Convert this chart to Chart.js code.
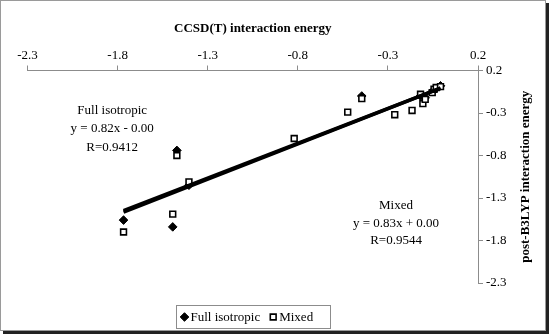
<!DOCTYPE html>
<html>
<head>
<meta charset="utf-8">
<script src="https://cdn.jsdelivr.net/npm/chart.js@4.4.1/dist/chart.umd.min.js"></script>
<style>
  html, body { margin: 0; padding: 0; background: #fff; }
  canvas { display: block; }
</style>
</head>
<body>
<canvas id="chart" width="549" height="334"></canvas>
<script>
// values
const isoX = [-1.767, -1.494, -1.471, -1.404, -0.445, -0.119, -0.093, -0.054, -0.032, -0.008];
const isoY = [-1.56, -1.64, -0.74, -1.15, -0.10, -0.10, -0.12, -0.05, -0.01, 0.02];

const mixX = [-1.767, -1.494, -1.471, -1.404, -0.820, -0.523, -0.445, -0.262, -0.166, -0.119, -0.106, -0.093, -0.054, -0.044, -0.032, -0.008];
const mixY = [-1.70, -1.49, -0.80, -1.11, -0.60, -0.29, -0.13, -0.32, -0.27, -0.08, -0.19, -0.14, -0.06, -0.02, 0.00, 0.01];

// trendline ends
const isoFitX = [-1.767, -0.008];
const isoFitY = [-1.449, -0.007];
const mixFitX = [-1.767, -0.008];
const mixFitY = [-1.467, -0.007];

const xTicks = [-2.3, -1.8, -1.3, -0.8, -0.3, 0.2];
const yTicks = [0.2, -0.3, -0.8, -1.3, -1.8, -2.3];

const isoLabel = "Full isotropic";
const mixLabel = "Mixed";
const isoNote = ["Full isotropic", "y = 0.82x - 0.00", "R=0.9412"];
const mixNote = ["Mixed", "y = 0.83x + 0.00", "R=0.9544"];

const serif = "'Liberation Serif', 'Times New Roman', serif";
const axisGray = "#8c8c8c";

function pts(xs, ys) {
  return xs.map((x, i) => ({ x: x, y: ys[i] }));
}

const extras = {
  id: "extras",
  beforeDraw(chart) {
    const ctx = chart.ctx;
    ctx.save();
    ctx.fillStyle = "#fff";
    ctx.fillRect(0, 0, chart.width, chart.height);
    ctx.restore();
  },
  afterDraw(chart) {
    const ctx = chart.ctx;
    const xs = chart.scales.x, ys = chart.scales.y;
    ctx.save();

    // notes
    ctx.fillStyle = "#000";
    ctx.font = "13px " + serif;
    ctx.textAlign = "center";
    ctx.textBaseline = "middle";
    isoNote.forEach((t, i) => {
      ctx.fillText(t, xs.getPixelForValue(-1.83), ys.getPixelForValue(-0.27) + i * 18.5);
    });
    mixNote.forEach((t, i) => {
      ctx.fillText(t, xs.getPixelForValue(-0.255), ys.getPixelForValue(-1.39) + i * 17.5);
    });

    // y title, reading upward
    ctx.font = "bold 13px " + serif;
    ctx.translate(526, (chart.chartArea.top + chart.chartArea.bottom) / 2);
    ctx.rotate(-Math.PI / 2);
    ctx.fillText("post-B3LYP interaction energy", 0, 0);
    ctx.setTransform(1, 0, 0, 1, 0, 0);

    // legend
    const items = [chart.data.datasets[0], chart.data.datasets[1]];
    ctx.font = "13px " + serif;
    ctx.textAlign = "left";
    const cy = 317;
    let x = 184.5;
    const bx = 176, bw = 154;
    items.forEach((ds, i) => {
      ctx.fillStyle = ds.backgroundColor;
      ctx.strokeStyle = ds.borderColor;
      ctx.lineWidth = ds.borderWidth;
      Chart.helpers.drawPoint(ctx, { pointStyle: ds.pointStyle, radius: ds.pointRadius, borderWidth: ds.borderWidth, rotation: 0 }, x, cy);
      ctx.fillStyle = "#000";
      ctx.fillText(ds.label, x + 6, cy + 1);
      x += 6 + ctx.measureText(ds.label).width + 13;
    });
    ctx.strokeStyle = "#8c8c8c";
    ctx.lineWidth = 1;
    ctx.strokeRect(bx + 0.5, 305.5, bw, 23);

    // frame
    ctx.strokeStyle = "#9a9a9a";
    ctx.strokeRect(0.5, 0.5, 545, 330);
    ctx.fillStyle = "#222";
    ctx.fillRect(546, 3, 3, 331);
    ctx.fillRect(3, 331, 546, 3);
    ctx.restore();
  }
};

new Chart(document.getElementById("chart"), {
  type: "scatter",
  data: {
    datasets: [
      {
        label: isoLabel,
        data: pts(isoX, isoY),
        pointStyle: "rectRot",
        pointRadius: 4.3,
        backgroundColor: "#000",
        borderColor: "#000",
        borderWidth: 1,
        order: 2
      },
      {
        label: mixLabel,
        data: pts(mixX, mixY),
        pointStyle: "rect",
        pointRadius: 4.1,
        backgroundColor: "#fff",
        borderColor: "#000",
        borderWidth: 1.6,
        order: 1
      },
      {
        label: "fit iso",
        type: "line",
        data: pts(isoFitX, isoFitY),
        borderColor: "#000",
        borderWidth: 3.5,
        pointRadius: 0,
        order: 0
      },
      {
        label: "fit mix",
        type: "line",
        data: pts(mixFitX, mixFitY),
        borderColor: "#000",
        borderWidth: 3.5,
        pointRadius: 0,
        order: 0
      }
    ]
  },
  options: {
    responsive: false,
    animation: false,
    events: [],
    layout: { padding: { left: 27.5, right: 0, top: 0, bottom: 51 } },
    plugins: {
      legend: { display: false },
      tooltip: { enabled: false }
    },
    scales: {
      x: {
        type: "linear",
        position: "top",
        min: -2.3,
        max: 0.2,
        afterBuildTicks: s => { s.ticks = xTicks.map(v => ({ value: v })); },
        afterFit: s => { s.height = 70.5; },
        ticks: {
          color: "#000",
          font: { family: serif, size: 13 },
          padding: 2,
          maxRotation: 0,
          callback: v => v.toFixed(1)
        },
        grid: { drawOnChartArea: false, tickLength: 5, color: axisGray },
        border: { color: axisGray },
        title: {
          display: true,
          text: "CCSD(T) interaction energy",
          color: "#000",
          font: { family: serif, size: 13, weight: "bold" },
          padding: { top: 21, bottom: 0 }
        }
      },
      y: {
        type: "linear",
        position: "right",
        min: -2.3,
        max: 0.2,
        afterBuildTicks: s => { s.ticks = yTicks.map(v => ({ value: v })); },
        afterFit: s => { s.width = 71; },
        ticks: {
          color: "#000",
          font: { family: serif, size: 13 },
          padding: 3,
          callback: v => v.toFixed(1)
        },
        grid: { drawOnChartArea: false, tickLength: 5, color: axisGray },
        border: { color: axisGray }
      }
    }
  },
  plugins: [extras]
});
</script>
</body>
</html>
